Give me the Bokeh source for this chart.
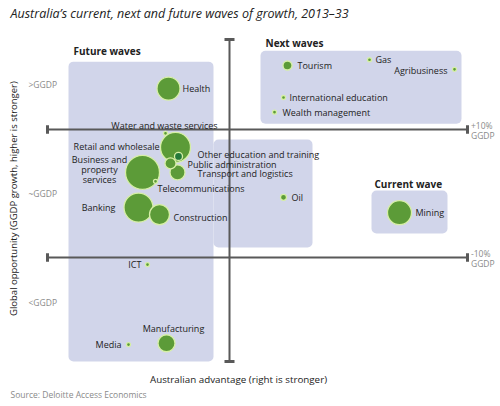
from bokeh.plotting import figure
from bokeh.models import Range1d, BoxAnnotation, ColumnDataSource
from bokeh.core.properties import value
from bokeh.embed import file_html
from bokeh.resources import INLINE
import math

# ---------------- data ----------------
sectors = ["Business and\nproperty\nservices", "Retail and wholesale", "Banking", "Mining",
           "Health", "Construction", "Manufacturing", "Transport and logistics",
           "Public administration", "Tourism", "Other education and training", "Oil",
           "Water and waste services", "Telecommunications", "Gas", "Agribusiness",
           "International education", "Wealth management", "ICT", "Media"]
# Australian advantage (index, right is stronger)
advantage = [-8.7, -5.4, -9.1, 17.0, -6.1, -7.0, -6.3, -5.2, -5.9, 5.8, -5.1, 5.4,
             -6.4, -7.4, 14.0, 22.5, 5.4, 4.5, -8.2, -10.1]
# Global opportunity (GGDP growth relative to global GDP, %)
opportunity = [3.3, 7.2, -2.2, -3.0, 16.4, -3.3, -23.4, 3.3, 4.7, 20.0, 5.8, -0.6,
               9.4, 1.9, 20.9, 19.4, 15.0, 12.7, -11.1, -23.6]
# relative size of the sector (bubble diameter)
bubble = [34, 30, 29, 24, 23, 20, 17, 15, 11, 9, 8, 6, 4, 4, 4, 4, 4, 4, 4, 4]

opp_ticks = [17, 0, -17]
opp_tick_labels = [">GGDP", "~GGDP", "<GGDP"]
band_values = [10, -10]
band_labels = ["+10%", "-10%"]
band_unit = "GGDP"

# wave regions (advantage, opportunity bounds)
future_main = dict(left=-16.1, right=-1.6, top=20.6, bottom=-26.25)
future_ext = dict(left=-1.6, right=8.3, top=8.45, bottom=-8.45)
next_box = dict(left=3.1, right=23.2, top=22.3, bottom=10.9)
current_box = dict(left=14.2, right=21.8, top=0.45, bottom=-6.25)

ADV_MIN, ADV_MAX = -18.2, 23.8
OPP_MIN, OPP_MAX = -26.25, 24.05

# ---------------- label layout (style) ----------------
label_layout = {
    "Business and\nproperty\nservices": (-43, -3, "center"),
    "Retail and wholesale": (-16, -1, "right"),
    "Banking": (-23, 0, "right"),
    "Mining": (16, 0, "left"),
    "Health": (14, 0, "left"),
    "Construction": (14, 3, "left"),
    "Manufacturing": (7, -15, "center"),
    "Transport and logistics": (20, 1, "left"),
    "Public administration": (17, 1, "left"),
    "Tourism": (10, 0, "left"),
    "Other education and training": (19, -2, "left"),
    "Oil": (8, 0, "left"),
    "Water and waste services": (-1, -8, "center"),
    "Telecommunications": (2, 7, "left"),
    "Gas": (6, 0, "left"),
    "Agribusiness": (-7, 1, "right"),
    "International education": (6, 0, "left"),
    "Wealth management": (8, 0, "left"),
    "ICT": (-6, 0, "right"),
    "Media": (-7, 0, "right"),
}

FONT = value("Open Sans")
GREEN = "#5c9b38"
DARK_GREEN = "#23793b"
EDGE = "#d6efa6"
BOX = "#d1d5ea"
AXIS = "#595959"
GREY = "#8a8a8a"
INK = "#222222"

p = figure(width=500, height=406, output_backend="svg", toolbar_location=None,
           x_range=Range1d(-22.9, 27.1), y_range=Range1d(-33.28, 30.156),
           min_border=0, min_border_left=0, min_border_right=0,
           min_border_top=0, min_border_bottom=0)
p.axis.visible = False
p.grid.visible = False
p.outline_line_color = None
p.background_fill_color = "white"
p.border_fill_color = "white"

for b in (future_main, future_ext, next_box, current_box):
    p.add_layout(BoxAnnotation(left=b["left"], right=b["right"], top=b["top"], bottom=b["bottom"],
                               fill_color=BOX, fill_alpha=1.0, line_color=None,
                               border_radius=5, level="underlay"))

# axes lines with caps
p.segment(x0=[0], y0=[OPP_MIN], x1=[0], y1=[OPP_MAX], line_color=AXIS, line_width=2)
p.segment(x0=[ADV_MIN, ADV_MIN], y0=band_values, x1=[ADV_MAX, ADV_MAX], y1=band_values,
          line_color=AXIS, line_width=2)
cap_h = 0.65
p.segment(x0=[ADV_MIN] * 2 + [ADV_MAX] * 2,
          y0=[v - cap_h for v in band_values] * 2,
          x1=[ADV_MIN] * 2 + [ADV_MAX] * 2,
          y1=[v + cap_h for v in band_values] * 2,
          line_color=AXIS, line_width=3)
cap_w = 0.5
p.segment(x0=[-cap_w, -cap_w], y0=[OPP_MIN, OPP_MAX], x1=[cap_w, cap_w], y1=[OPP_MIN, OPP_MAX],
          line_color=AXIS, line_width=3)

# bubbles
fills = [DARK_GREEN if s == "Other education and training" else GREEN for s in sectors]
src = ColumnDataSource(dict(x=advantage, y=opportunity, s=bubble, name=sectors, fill=fills,
                            dx=[label_layout[s][0] for s in sectors],
                            dy=[label_layout[s][1] for s in sectors],
                            al=[label_layout[s][2] for s in sectors]))
p.scatter("x", "y", size="s", source=src, marker="circle", fill_color="fill",
          line_color=EDGE, line_width=1.3)

p.text("x", "y", text="name", source=src, x_offset="dx", y_offset="dy", text_align="al",
       text_baseline="middle", text_font=FONT, text_font_size="9px", text_color=INK,
       text_line_height=0.78)

# opportunity level labels
p.text(x=[-20.1] * 3, y=opp_ticks, text=opp_tick_labels, text_font=FONT, text_font_size="8.5px",
       text_color=GREY, text_baseline="middle", text_align="left")
p.text(x=[ADV_MAX + 0.35] * 2, y=band_values, text=band_labels, y_offset=-4, text_font=FONT,
       text_font_size="8.5px", text_color=GREY, text_baseline="middle", text_align="left")
p.text(x=[ADV_MAX + 0.35] * 2, y=band_values, text=[band_unit] * 2, y_offset=6, text_font=FONT,
       text_font_size="8.5px", text_color=GREY, text_baseline="middle", text_align="left")

# section titles
p.text(x=[-15.6, 3.6, 14.5], y=[22.19, 23.44, 1.56],
       text=["Future waves", "Next waves", "Current wave"], text_font=FONT,
       text_font_size="10px", text_font_style="bold", text_color=INK,
       text_baseline="middle", text_align="left")

# title, axis titles, source
p.text(x=[-21.9], y=[28.1], text=["Australia\u2019s current, next and future waves of growth, 2013\u201333"],
       text_font=FONT, text_font_size="12.5px", text_font_style="italic", text_color=INK,
       text_baseline="middle", text_align="left")
p.text(x=[-21.6], y=[-0.8], text=["Global opportunity (GGDP growth, higher is stronger)"],
       angle=math.pi / 2, text_font=FONT, text_font_size="9.5px", text_color=INK,
       text_baseline="middle", text_align="center")
p.text(x=[0.9], y=[-29.06], text=["Australian advantage (right is stronger)"],
       text_font=FONT, text_font_size="9.8px", text_color=INK,
       text_baseline="middle", text_align="center")
p.text(x=[-21.9], y=[-31.4], text=["Source: Deloitte Access Economics"],
       text_font=FONT, text_font_size="8.5px", text_color=GREY,
       text_baseline="middle", text_align="left")

open("out.html", "w").write(file_html(p, INLINE))
